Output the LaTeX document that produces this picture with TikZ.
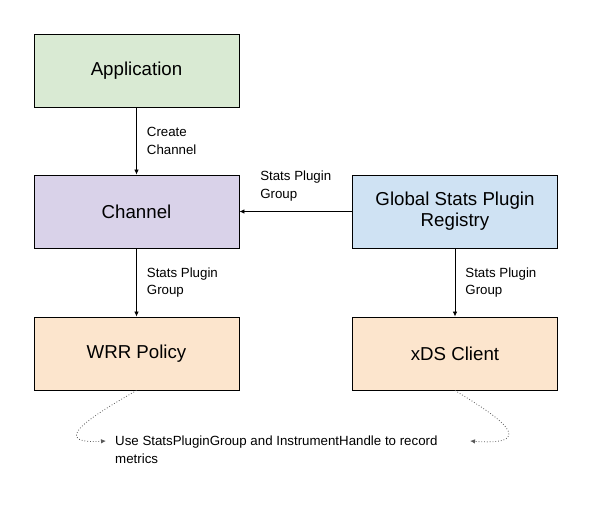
\documentclass[tikz,border=0pt]{standalone}
\usepackage{fontspec}
\setmainfont{Liberation Sans}
\usetikzlibrary{arrows.meta}
\definecolor{appgreen}{HTML}{D9EAD3}
\definecolor{chanpurple}{HTML}{D9D2E9}
\definecolor{regblue}{HTML}{CFE2F3}
\definecolor{useorange}{HTML}{FCE5CD}
\tikzset{
  box/.style={rectangle, draw=black, line width=0.9pt, minimum width=205pt, minimum height=73pt, align=center, font=\fontsize{18.7}{21}\selectfont},
  lbl/.style={inner sep=0pt, align=left, font=\fontsize{13.3}{17.5}\selectfont},
  notecurve/.style={draw=black!65, line width=0.8pt, dotted},
  >={Latex[length=5pt,width=4.5pt]}
}
\begin{document}
\begin{tikzpicture}[x=1pt,y=-1pt]
\useasboundingbox (0,0) rectangle (604,518);
\node[box, fill=appgreen](app) at (136.5,70.5) {Application};
\node[box, fill=chanpurple](chan) at (136.5,211.5) {Channel};
\node[box, fill=useorange](wrr) at (136.5,353.5) {WRR Policy};
\node[box, fill=regblue](reg) at (455,211.5) {Global Stats Plugin\\Registry};
\node[box, fill=useorange](xds) at (455,353.5) {xDS Client};
\draw[->, line width=0.8pt] (app) -- node[lbl, right=10pt]{Create\\Channel} (chan);
\draw[->, line width=0.8pt] (reg) -- node[lbl, above=10pt]{Stats Plugin\\Group} (chan);
\draw[->, line width=0.8pt] (chan) -- node[lbl, right=10pt]{Stats Plugin\\Group} (wrr);
\draw[->, line width=0.8pt] (reg) -- node[lbl, right=10pt]{Stats Plugin\\Group} (xds);

\node[lbl, anchor=north west](note) at (115,436) {Use StatsPluginGroup and InstrumentHandle to record\\metrics};
\coordinate (useL) at (106,441);
\coordinate (useR) at (470,441);
\draw[notecurve, ->] (wrr.south) .. controls (112,405) and (38,445) .. (useL);
\draw[notecurve, ->] (xds.south) .. controls (478,405) and (552,447) .. (useR);
\end{tikzpicture}
\end{document}
